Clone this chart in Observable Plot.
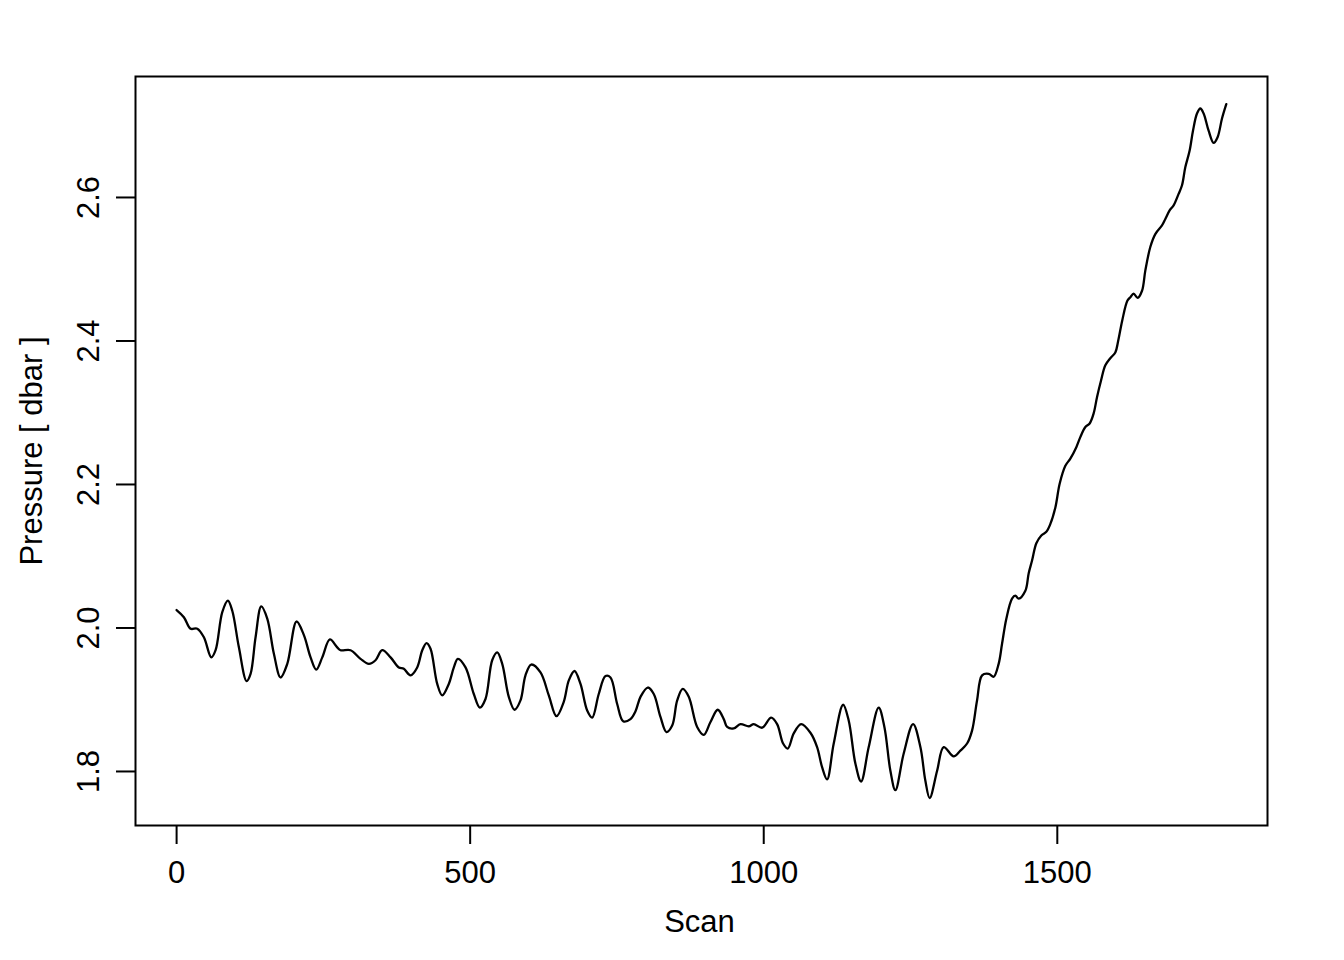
<!DOCTYPE html>
<html>
<head>
<meta charset="utf-8">
<script src="https://cdn.jsdelivr.net/npm/d3@7"></script>
<script src="https://cdn.jsdelivr.net/npm/@observablehq/plot@0.6"></script>
<style>
  html, body { margin: 0; padding: 0; background: #ffffff; }
  #chart { width: 1344px; height: 960px; }
</style>
</head>
<body>
<div id="chart"></div>
<script>
// Scan index (x) and pressure in dbar (y)
const scan = [0, 12.4, 23.8, 35.2, 46.5, 59.1, 66.4, 77.8, 87.3, 94.8, 106.1, 119.2, 126.0, 134.5, 144.2, 154.4, 165.7, 177.1, 188.5, 204.3,
  216.8, 228.2, 237.9, 248.1, 261.0, 273.6, 279.2, 296.3, 313.3, 327.4, 338.8, 350.2, 364.4, 378.5, 387.0, 398.4, 409.8, 418.4, 425.7, 432.5,
  443.9, 452.4, 463.6, 472.2, 479.0, 492.1, 506.2, 516.4, 526.1, 537.5, 546.1, 554.6, 565.8, 575.5, 585.7, 594.2, 604.0, 619.8, 633.9, 647.0,
  659.4, 668.0, 677.7, 687.9, 699.3, 707.8, 719.0, 730.5, 739.0, 750.4, 760.6, 773.0, 781.6, 790.1, 802.5, 812.7, 824.1, 834.3, 844.1, 852.6,
  862.1, 872.3, 886.6, 897.8, 909.3, 921.7, 931.9, 937.7, 948.9, 960.3, 974.5, 983.0, 997.3, 1012.6, 1022.8, 1033.0, 1040.9, 1051.1, 1063.7, 1079.5,
  1090.9, 1099.4, 1107.9, 1119.2, 1135.2, 1144.7, 1156.1, 1165.8, 1178.8, 1195.8, 1205.5, 1215.7, 1224.2, 1238.4, 1254.4, 1266.8, 1275.3, 1282.6, 1295.3, 1306.5,
  1323.5, 1334.9, 1346.3, 1354.8, 1363.3, 1371.9, 1383.1, 1391.6, 1400.1, 1405.9, 1413.2, 1422.9, 1428.6, 1434.2, 1445.6, 1451.2, 1457.0, 1464.3, 1472.8, 1481.3,
  1488.2, 1496.7, 1504.0, 1513.7, 1522.2, 1532.4, 1539.2, 1547.8, 1555.1, 1561.9, 1567.7, 1574.5, 1581.8, 1590.3, 1598.8, 1603.9, 1610.7, 1619.3, 1624.4, 1630.0,
  1636.8, 1644.3, 1649.9, 1658.4, 1666.9, 1678.3, 1684.0, 1691.3, 1698.1, 1706.6, 1712.4, 1718.0, 1725.3, 1731.1, 1737.9, 1743.6, 1749.2, 1757.7, 1766.2, 1773.0,
  1780.5, 1787.8];
const pressure = [2.025, 2.015, 1.999, 1.999, 1.987, 1.959, 1.969, 2.022, 2.038, 2.024, 1.973, 1.926, 1.936, 1.987, 2.030, 2.013, 1.964, 1.931, 1.950, 2.009,
  1.990, 1.959, 1.942, 1.959, 1.984, 1.973, 1.969, 1.969, 1.957, 1.950, 1.955, 1.969, 1.959, 1.945, 1.943, 1.934, 1.945, 1.969, 1.979, 1.971,
  1.922, 1.906, 1.922, 1.945, 1.957, 1.945, 1.908, 1.889, 1.901, 1.955, 1.966, 1.950, 1.904, 1.886, 1.899, 1.934, 1.949, 1.938, 1.906, 1.877,
  1.897, 1.927, 1.940, 1.922, 1.885, 1.875, 1.908, 1.933, 1.931, 1.894, 1.870, 1.873, 1.884, 1.904, 1.917, 1.908, 1.876, 1.855, 1.864, 1.899,
  1.915, 1.904, 1.862, 1.851, 1.869, 1.886, 1.873, 1.862, 1.860, 1.866, 1.863, 1.866, 1.861, 1.875, 1.866, 1.839, 1.832, 1.853, 1.866, 1.854,
  1.834, 1.806, 1.789, 1.839, 1.893, 1.871, 1.811, 1.786, 1.834, 1.889, 1.862, 1.801, 1.774, 1.825, 1.866, 1.834, 1.787, 1.763, 1.801, 1.834,
  1.821, 1.829, 1.839, 1.857, 1.899, 1.934, 1.936, 1.932, 1.950, 1.978, 2.013, 2.041, 2.045, 2.041, 2.052, 2.076, 2.094, 2.118, 2.129, 2.134,
  2.145, 2.168, 2.201, 2.226, 2.236, 2.252, 2.266, 2.280, 2.285, 2.299, 2.322, 2.345, 2.366, 2.376, 2.384, 2.401, 2.429, 2.456, 2.461, 2.466,
  2.460, 2.470, 2.498, 2.531, 2.549, 2.561, 2.570, 2.582, 2.589, 2.605, 2.617, 2.642, 2.665, 2.693, 2.717, 2.724, 2.717, 2.693, 2.676, 2.684,
  2.710, 2.730];
const xTicks = [0, 500, 1000, 1500];
const yTicks = [1.8, 2.0, 2.2, 2.4, 2.6];
const xLabel = "Scan";
const yLabel = "Pressure [ dbar ]";

const rows = scan.map((s, i) => ({scan: s, pressure: pressure[i]}));
const font = "'Liberation Sans', Arial, Helvetica, sans-serif";

const chart = Plot.plot({
  width: 1344,
  height: 960,
  marginLeft: 135,
  marginRight: 77,
  marginTop: 76,
  marginBottom: 135,
  style: {fontFamily: font, fontSize: "31px", background: "#ffffff", color: "#000000"},
  x: {domain: [-70, 1858], label: null},
  y: {domain: [1.7247, 2.7686], label: null},
  marks: [
    Plot.frame({stroke: "#000", strokeWidth: 2}),
    Plot.axisX({ticks: xTicks, tickSize: 19, tickPadding: 16, strokeWidth: 2, fontSize: 31, label: null,
      tickFormat: d => String(d)}),
    Plot.axisY({ticks: yTicks, tickSize: 19, strokeWidth: 2, label: null, tickFormat: () => ""}),
    Plot.text(yTicks, {y: d => d, frameAnchor: "left", dx: -46, rotate: -90, fontSize: 31,
      text: d => d.toFixed(1), textAnchor: "middle", lineAnchor: "middle"}),
    Plot.text([xLabel], {frameAnchor: "bottom", dx: -2, dy: 97, fontSize: 31, textAnchor: "middle", lineAnchor: "middle"}),
    Plot.text([yLabel], {frameAnchor: "left", dx: -103, rotate: -90, fontSize: 31, textAnchor: "middle", lineAnchor: "middle"}),
    Plot.line(rows, {x: "scan", y: "pressure", stroke: "#000", strokeWidth: 2.3, curve: "catmull-rom"})
  ]
});
document.getElementById("chart").appendChild(chart);
</script>
</body>
</html>
